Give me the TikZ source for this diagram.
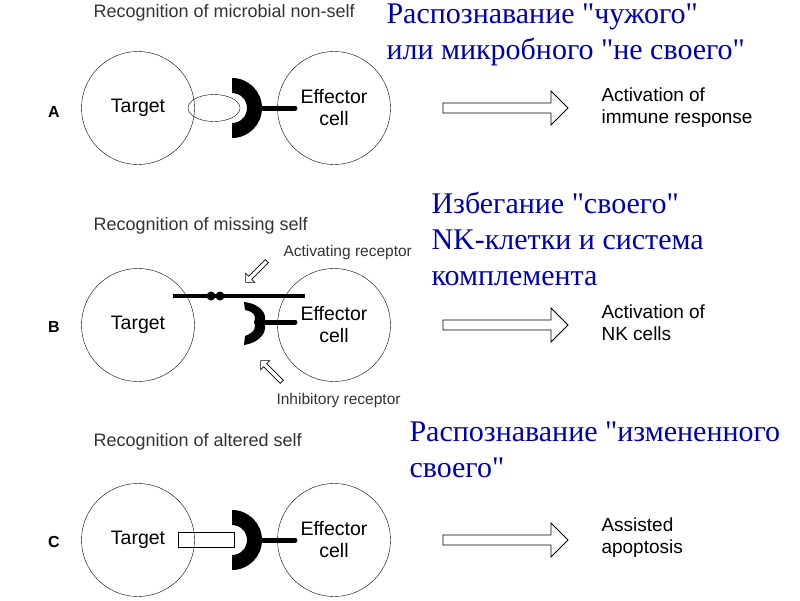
\documentclass[tikz,border=0pt]{standalone}
\usepackage{fontspec}
\setmainfont{Liberation Sans}
\newfontfamily\rusfont{Liberation Serif}
\usetikzlibrary{shapes.arrows,shapes.geometric}

\begin{document}
\begin{tikzpicture}[x=1pt,y=-1pt,
        cell/.style={draw, circle, minimum size=113pt, inner sep=0pt, font=\fontsize{19.5}{22}\selectfont, align=center},
        bigarrow/.style={draw, single arrow, minimum height=125pt, minimum width=34pt, single arrow head extend=8pt, inner sep=3pt, line width=0.8pt},
        smallarrow/.style={draw, single arrow, minimum height=30pt, minimum width=13pt, single arrow head extend=2.5pt, inner sep=1pt, line width=0.6pt},
        header/.style={font=\fontsize{18}{20}\selectfont, text=black!80, anchor=west},
        result/.style={font=\fontsize{19}{22}\selectfont, align=left, anchor=west},
        rus/.style={font=\rusfont\fontsize{30}{36}\selectfont, text=blue!70!black, align=left, anchor=north west},
        letter/.style={font=\bfseries\fontsize{16}{18}\selectfont}
    ]
    \useasboundingbox (0,0) rectangle (800,600);

    % panel A
    \node[header] (hdrA) at (90,13) {Recognition of microbial non-self};
    \node[letter] (letA) at (54,112) {A};
    \node[cell] (targetA) at (138,108) {Target};
    \node[cell] (effA) at (334,108) {Effector\\cell};
    \node[draw, ellipse, minimum width=52pt, minimum height=27pt, inner sep=0pt] (antigenA) at (214,108) {};
    \fill (232,78) arc(-90:90:30) -- (232,123) arc(90:-90:15) -- cycle;
    \coordinate (cupA) at (258,108);
    \coordinate (stemA) at (295,108);
    \draw[line width=5pt, line cap=round] (cupA) -- (stemA);
    \node[bigarrow] (arrA) at (503,108) {};
    \node[result] (resA) at (598,108) {Activation of\\immune response};
    \node[rus] (rusA) at (383,0) {Распознавание "чужого"\\или микробного "не своего"};

    % panel B
    \node[header] (hdrB) at (90,226) {Recognition of missing self};
    \node[letter] (letB) at (54,327) {B};
    \node[cell] (targetB) at (138,325) {Target};
    \node[cell] (effB) at (334,325) {Effector\\cell};
    \coordinate (lineL) at (173,296);
    \coordinate (lineR) at (305,296);
    \draw[line width=3.5pt] (lineL) -- (lineR);
    \fill (211,296) circle (4.5pt) (220,296) circle (4.5pt);
    \fill (244,302) .. controls (262,304) and (268,316) .. (264,322)
          .. controls (268,330) and (262,342) .. (244,345)
          -- (245,336) .. controls (256,332) and (256,326) .. (254,322)
          .. controls (256,318) and (256,312) .. (245,310) -- cycle;
    \coordinate (cupB) at (262,322);
    \coordinate (stemB) at (295,322);
    \draw[line width=5pt, line cap=round] (cupB) -- (stemB);
    \node[smallarrow, rotate=-135] (actArr) at (257,271) {};
    \node[smallarrow, rotate=135] (inhArr) at (272,372) {};
    \node[header, font=\fontsize{15.5}{17}\selectfont] (actLbl) at (280,252) {Activating receptor};
    \node[header, font=\fontsize{15.5}{17}\selectfont] (inhLbl) at (273,400) {Inhibitory receptor};
    \node[bigarrow] (arrB) at (503,325) {};
    \node[result] (resB) at (598,323) {Activation of\\NK cells};
    \node[rus] (rusB) at (428,188) {Избегание "своего"\\NK-клетки и система\\комплемента};

    % panel C
    \node[header] (hdrC) at (90,442) {Recognition of altered self};
    \node[letter] (letC) at (54,542) {C};
    \node[cell] (targetC) at (138,540) {Target};
    \node[cell] (effC) at (334,540) {Effector\\cell};
    \node[draw, rectangle, minimum width=56pt, minimum height=15pt, inner sep=0pt] (antigenC) at (206,540) {};
    \fill (232,510) arc(-90:90:30) -- (232,555) arc(90:-90:15) -- cycle;
    \coordinate (cupC) at (258,540);
    \coordinate (stemC) at (295,540);
    \draw[line width=5pt, line cap=round] (cupC) -- (stemC);
    \node[bigarrow] (arrC) at (503,540) {};
    \node[result] (resC) at (598,538) {Assisted\\apoptosis};
    \node[rus] (rusC) at (406,418) {Распознавание "измененного\\своего"};
\end{tikzpicture}
\end{document}
